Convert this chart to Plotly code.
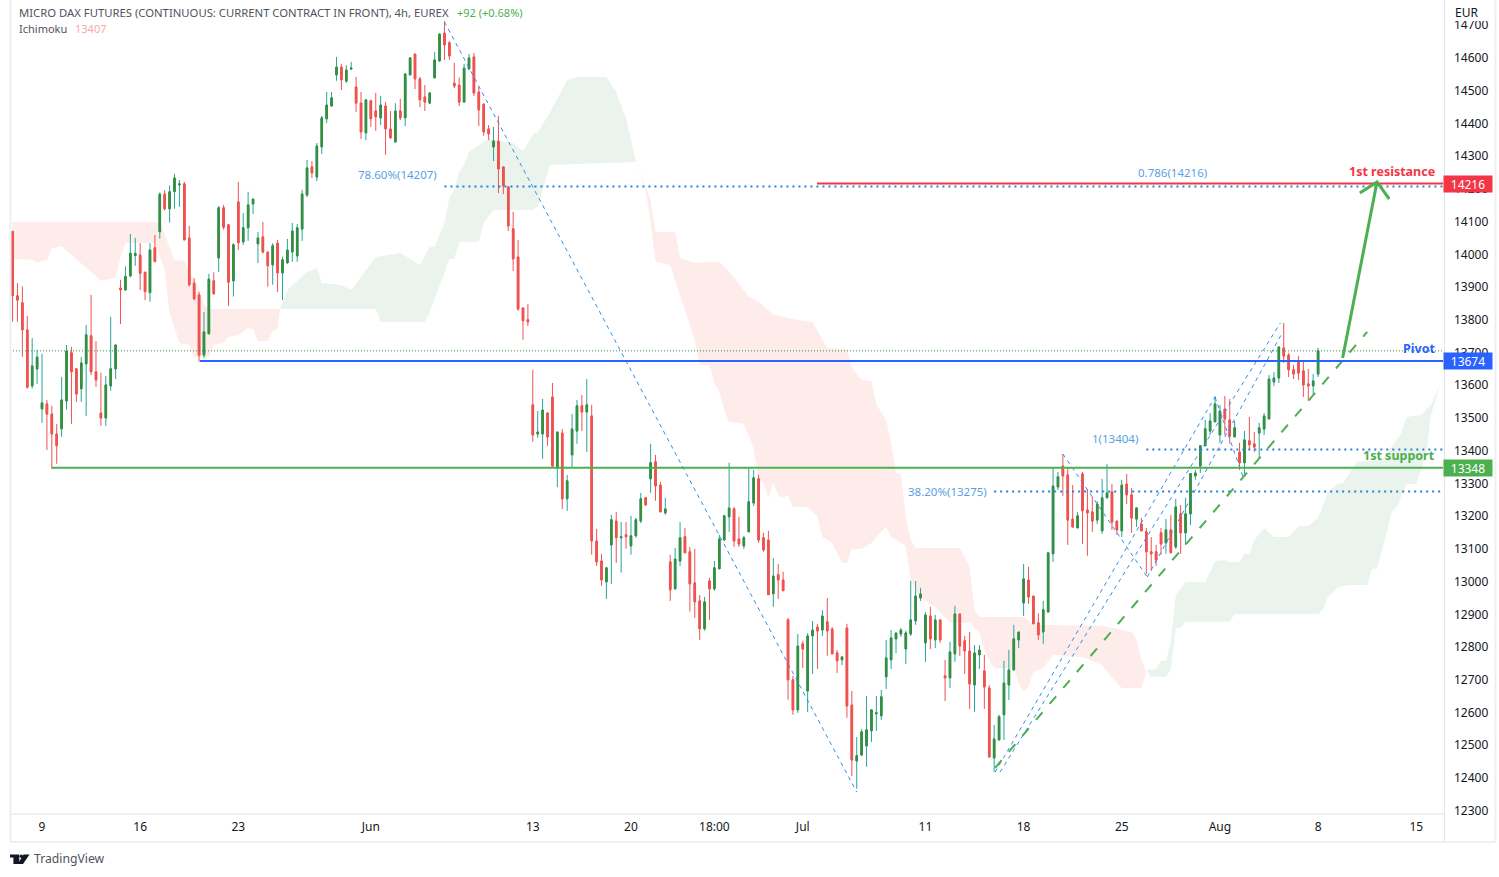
import plotly.graph_objects as go

# ==================== 4h 蜡烛数据 (bar index, 价格) ====================
bar_open = [
    14070, 13873, 13852, 13769, 13598, 13650, 13528, 13543, 13512, 13451,
    13467, 13552, 13699, 13650, 13589, 13665, 13751, 13641, 13515, 13500,
    13598, 13650, 13897, 13891, 13934, 13996, 13998, 13945, 13883, 14020,
    14069, 14184, 14139, 14192, 14212, 14215, 14050, 13912, 13876, 13692,
    13757, 13919, 13989, 14142, 14090, 13919, 14160, 14038, 14081, 14154,
    14032, 14053, 14007, 13968, 14034, 13943, 13974, 14007, 13995, 14077,
    14181, 14267, 14236, 14328, 14414, 14453, 14548, 14572, 14529, 14566,
    14511, 14462, 14371, 14469, 14438, 14417, 14453, 14383, 14343, 14438,
    14417, 14548, 14612, 14536, 14481, 14462, 14539, 14591, 14676, 14646,
    14523, 14517, 14465, 14566, 14603, 14496, 14459, 14383, 14328, 14346,
    14267, 14206, 14078, 13992, 13836, 13800, 13540, 13451, 13451, 13515,
    13564, 13350, 13454, 13253, 13387, 13460, 13537, 13518, 13506, 13124,
    13063, 12999, 13112, 13185, 13134, 13143, 13109, 13140, 13185, 13256,
    13314, 13366, 13295, 13210, 13060, 12978, 13063, 13137, 13091, 12996,
    12941, 12856, 13002, 12978, 13039, 13127, 13198, 13222, 13130, 13109,
    13152, 13240, 13314, 13134, 13127, 12963, 13021, 13005, 12883, 12700,
    12608, 12810, 12666, 12834, 12861, 12852, 12877, 12855, 12782, 12761,
    12858, 12623, 12452, 12470, 12498, 12544, 12596, 12590, 12709, 12761,
    12825, 12840, 12794, 12840, 12880, 12950, 12813, 12895, 12822, 12883,
    12712, 12706, 12779, 12901, 12819, 12788, 12684, 12776, 12727, 12675,
    12461, 12516, 12593, 12684, 12730, 12822, 12935, 13005, 12956, 12874,
    12846, 12907, 13085, 13289, 13353, 13326, 13191, 13164, 13329, 13219,
    13213, 13188, 13155, 13256, 13274, 13185, 13155, 13298, 13265, 13191,
    13176, 13152, 13091, 13091, 13149, 13118, 13158, 13106, 13207, 13149,
    13207, 13323, 13353, 13415, 13460, 13488, 13448, 13527, 13494, 13442,
    13396, 13363, 13430, 13421, 13454, 13466, 13497, 13610, 13622, 13714,
    13692, 13647, 13671, 13644, 13604, 13598, 13634,
]
bar_high = [
    14070, 13912, 13902, 13812, 13744, 13708, 13696, 13555, 13537, 13482,
    13625, 13723, 13717, 13650, 13686, 13784, 13876, 13735, 13638, 13628,
    13809, 13723, 13922, 13963, 14062, 14050, 14034, 13947, 14034, 14059,
    14189, 14196, 14210, 14246, 14227, 14221, 14087, 13927, 13885, 13824,
    13940, 13945, 14148, 14151, 14093, 14034, 14221, 14126, 14191, 14169,
    14068, 14099, 14007, 14034, 14044, 13993, 14047, 14096, 14093, 14197,
    14288, 14285, 14340, 14423, 14496, 14496, 14603, 14582, 14578, 14588,
    14542, 14496, 14472, 14472, 14493, 14484, 14465, 14438, 14462, 14475,
    14554, 14603, 14612, 14542, 14517, 14496, 14618, 14675, 14712, 14652,
    14585, 14540, 14582, 14612, 14615, 14511, 14459, 14395, 14389, 14423,
    14267, 14206, 14130, 14044, 13836, 13848, 13647, 13521, 13558, 13518,
    13607, 13457, 13466, 13326, 13512, 13555, 13570, 13619, 13540, 13161,
    13085, 13042, 13204, 13213, 13182, 13182, 13201, 13195, 13271, 13259,
    13421, 13387, 13305, 13256, 13082, 13103, 13182, 13164, 13106, 13100,
    12959, 12953, 13011, 13063, 13143, 13204, 13363, 13228, 13198, 13140,
    13346, 13341, 13326, 13149, 13155, 13072, 13054, 13030, 12889, 12712,
    12840, 12819, 12843, 12880, 12871, 12913, 12950, 12861, 12791, 12770,
    12871, 12666, 12525, 12550, 12651, 12611, 12651, 12669, 12822, 12852,
    12843, 12858, 12850, 13002, 13002, 12981, 12907, 12923, 12898, 12883,
    12761, 12816, 12926, 12901, 12834, 12846, 12806, 12806, 12776, 12684,
    12562, 12593, 12758, 12791, 12868, 12846, 13054, 13045, 12956, 12903,
    12941, 13088, 13347, 13335, 13390, 13347, 13295, 13213, 13335, 13283,
    13259, 13246, 13314, 13359, 13298, 13185, 13311, 13329, 13286, 13228,
    13195, 13164, 13136, 13112, 13164, 13191, 13204, 13253, 13234, 13256,
    13330, 13341, 13415, 13494, 13515, 13567, 13540, 13567, 13558, 13491,
    13424, 13460, 13503, 13457, 13485, 13515, 13631, 13640, 13717, 13790,
    13699, 13662, 13689, 13674, 13650, 13634, 13714,
]
bar_low = [
    13794, 13794, 13687, 13590, 13590, 13604, 13485, 13402, 13344, 13360,
    13442, 13525, 13482, 13549, 13549, 13506, 13631, 13595, 13476, 13476,
    13583, 13619, 13787, 13891, 13930, 13965, 13891, 13860, 13855, 13975,
    14048, 14134, 14097, 14139, 14145, 14044, 13902, 13860, 13671, 13683,
    13757, 13879, 13946, 14075, 13842, 13871, 14013, 14029, 14041, 14123,
    13973, 14003, 13901, 13907, 13885, 13860, 13971, 13977, 13977, 14041,
    14175, 14233, 14224, 14307, 14401, 14453, 14530, 14502, 14524, 14563,
    14435, 14352, 14349, 14389, 14377, 14395, 14304, 14352, 14343, 14410,
    14392, 14548, 14505, 14450, 14438, 14459, 14539, 14588, 14594, 14594,
    14508, 14453, 14465, 14566, 14484, 14392, 14362, 14349, 14285, 14187,
    14184, 14071, 13949, 13827, 13739, 13781, 13427, 13439, 13375, 13415,
    13349, 13289, 13222, 13216, 13350, 13421, 13460, 13396, 13082, 13048,
    12987, 12947, 12993, 13057, 13027, 13100, 13082, 13134, 13179, 13234,
    13271, 13247, 13213, 13204, 12941, 12975, 13048, 13088, 12908, 12889,
    12822, 12850, 12883, 12972, 13039, 13127, 13152, 13106, 13106, 13100,
    13152, 13231, 13118, 13091, 12960, 12923, 12947, 12972, 12639, 12593,
    12599, 12736, 12602, 12718, 12733, 12834, 12773, 12779, 12721, 12745,
    12584, 12406, 12367, 12467, 12434, 12510, 12544, 12577, 12672, 12733,
    12782, 12831, 12748, 12834, 12868, 12941, 12755, 12794, 12797, 12813,
    12635, 12675, 12755, 12773, 12718, 12611, 12602, 12733, 12611, 12464,
    12419, 12516, 12516, 12638, 12730, 12797, 12895, 12932, 12871, 12822,
    12810, 12907, 13060, 13280, 13262, 13112, 13164, 13164, 13115, 13079,
    13152, 13176, 13146, 13256, 13158, 13143, 13136, 13237, 13149, 13167,
    13155, 13024, 13033, 13048, 13082, 13085, 13088, 13100, 13085, 13112,
    13173, 13311, 13332, 13415, 13448, 13488, 13424, 13448, 13421, 13442,
    13341, 13326, 13405, 13396, 13378, 13448, 13497, 13598, 13607, 13668,
    13625, 13619, 13616, 13564, 13552, 13573, 13625,
]
bar_close = [
    13874, 13860, 13769, 13594, 13659, 13686, 13546, 13512, 13451, 13415,
    13555, 13704, 13641, 13573, 13668, 13754, 13641, 13616, 13500, 13601,
    13650, 13723, 13891, 13932, 14003, 14003, 13942, 13886, 14013, 13978,
    14184, 14139, 14191, 14233, 14215, 14044, 13907, 13864, 13692, 13763,
    13924, 13879, 14142, 14083, 13915, 14029, 14035, 14081, 14151, 14169,
    14050, 14007, 13965, 14026, 13943, 13983, 14013, 14071, 14081, 14184,
    14264, 14249, 14331, 14417, 14456, 14478, 14572, 14533, 14563, 14569,
    14462, 14374, 14472, 14414, 14420, 14456, 14383, 14356, 14438, 14417,
    14551, 14600, 14536, 14472, 14465, 14493, 14594, 14673, 14640, 14606,
    14514, 14465, 14569, 14600, 14493, 14441, 14374, 14368, 14346, 14261,
    14209, 14087, 13986, 13833, 13797, 13794, 13448, 13457, 13524, 13442,
    13353, 13457, 13253, 13308, 13466, 13537, 13518, 13540, 13124, 13060,
    13005, 13042, 13189, 13134, 13137, 13137, 13140, 13189, 13253, 13234,
    13363, 13292, 13213, 13222, 12975, 13069, 13134, 13088, 12993, 12938,
    12856, 12938, 12978, 13042, 13130, 13201, 13225, 13124, 13115, 13134,
    13244, 13317, 13127, 13097, 12960, 13017, 13005, 12972, 12700, 12608,
    12803, 12794, 12834, 12852, 12849, 12895, 12849, 12779, 12758, 12770,
    12620, 12455, 12468, 12541, 12547, 12608, 12599, 12648, 12767, 12828,
    12843, 12852, 12843, 12883, 12956, 12962, 12898, 12825, 12883, 12822,
    12706, 12785, 12901, 12803, 12788, 12687, 12782, 12791, 12678, 12464,
    12519, 12587, 12690, 12730, 12825, 12846, 13008, 12953, 12871, 12837,
    12914, 13088, 13292, 13320, 13323, 13188, 13167, 13201, 13216, 13210,
    13185, 13237, 13256, 13271, 13182, 13158, 13295, 13265, 13194, 13225,
    13155, 13091, 13085, 13066, 13115, 13158, 13088, 13228, 13149, 13207,
    13330, 13332, 13415, 13467, 13491, 13543, 13521, 13497, 13445, 13470,
    13363, 13433, 13418, 13411, 13470, 13506, 13619, 13622, 13717, 13689,
    13647, 13634, 13637, 13601, 13598, 13613, 13705,
]
body_high = [max(o, c) for o, c in zip(bar_open, bar_close)]
body_low = [min(o, c) for o, c in zip(bar_open, bar_close)]
bar_index = list(range(len(bar_open)))

# ==================== Ichimoku 云 ====================
pink1_top_i = [0, 30, 33, 35, 38, 39, 40, 54.5]
pink1_top_p = [14099, 14099, 13983, 13980, 13891, 13845, 13833, 13833]
pink1_bot_i = [0, 4, 5, 7, 8, 10, 12, 14, 16, 18, 21, 22, 23, 29, 31, 32, 34, 36, 37, 40, 41, 43, 44, 46, 48, 49, 50, 52, 53, 54, 54.5]
pink1_bot_p = [13986, 13983, 13974, 13983, 14019, 14025, 13998, 13974, 13946, 13919, 13928, 13992, 14035, 14035,
               13952, 13821, 13729, 13723, 13686, 13686, 13723, 13729, 13747, 13753, 13775, 13772, 13735, 13735,
               13766, 13772, 13833]

green1_top_i = [54.5, 56, 60, 62, 63, 67, 69, 74, 79, 83, 85, 86, 88, 89, 90, 91, 92, 93, 96, 97, 102, 104, 105, 106, 107, 109, 113, 115, 121, 123, 125, 127]
green1_top_p = [13833, 13891, 13946, 13958, 13912, 13906, 13891, 13992, 14004, 13967, 14022, 14025, 14096, 14175,
                14197, 14252, 14273, 14313, 14343, 14352, 14340, 14316, 14340, 14365, 14374, 14420, 14532, 14542,
                14542, 14496, 14416, 14282]
green1_bot_i = [54.5, 74, 75, 84, 85, 88, 89, 90, 91, 95, 96, 98, 106, 107, 109.5, 127]
green1_bot_p = [13833, 13833, 13793, 13793, 13824, 13943, 13986, 13986, 14038, 14038, 14096, 14135, 14135, 14145, 14273, 14282]

pink2_top_i = [127, 128, 130, 131, 135, 136, 139, 144, 147, 150, 152, 155, 160, 163, 165, 166, 170, 171, 173, 175, 176, 178, 179, 180, 181,
               182, 183, 184, 193, 195, 196, 197, 206, 208, 222, 228, 229, 230, 231]
pink2_top_p = [14282, 14242, 14166, 14068, 14068, 13989, 13974, 13977, 13931, 13870, 13855, 13815, 13799, 13793, 13738,
               13714, 13711, 13653, 13616, 13613, 13540, 13494, 13424, 13332, 13329, 13194, 13127, 13103, 13103,
               13045, 12913, 12892, 12892, 12868, 12865, 12846, 12822, 12761, 12724]
pink2_bot_i = [127, 129, 130, 131, 134, 137, 139, 140, 142, 143, 144, 145, 146, 149, 151, 152, 153, 154, 155, 156, 157, 158, 159, 162, 164,
               165, 167, 169, 170, 171, 173, 175, 177, 178, 179, 181, 182, 183, 184, 185, 188, 191, 195, 197, 198, 199, 200,
               204, 205, 206, 207, 208, 210, 212, 218, 222, 224, 226, 230, 231]
pink2_bot_p = [14282, 14196, 14099, 13977, 13967, 13830, 13738, 13662, 13662, 13607, 13579, 13524, 13488, 13482, 13408,
               13311, 13301, 13256, 13301, 13265, 13256, 13265, 13228, 13228, 13198, 13136, 13118, 13057, 13057,
               13100, 13100, 13118, 13152, 13167, 13136, 13118, 13109, 13005, 12974, 12950, 12923, 12874, 12874,
               12843, 12791, 12761, 12736, 12733, 12690, 12663, 12678, 12724, 12736, 12776, 12770, 12745, 12706,
               12675, 12675, 12724]

green2_top_i = [231, 233, 234, 235, 236, 237, 239, 243, 245, 247, 248, 250, 251, 252, 253, 255, 257, 260, 262, 264, 266, 268, 270, 271, 274, 279, 283, 284, 287, 289, 291]
green2_top_p = [12730, 12733, 12758, 12758, 12813, 12959, 12999, 12999, 13063, 13066, 13060, 13060, 13085, 13085, 13127,
                13164, 13136, 13136, 13170, 13170, 13194, 13274, 13298, 13301, 13366, 13372, 13454, 13503, 13509,
                13540, 13607]
green2_bot_i = [231, 232, 235, 236, 237, 238, 239, 248, 249, 266, 267, 268, 270, 272, 276, 277, 278, 280, 281, 282, 284, 286, 288, 289, 291]
green2_bot_p = [12730, 12709, 12709, 12730, 12858, 12858, 12877, 12877, 12901, 12901, 12913, 12953, 12981, 12990, 12990,
                13039, 13039, 13151, 13213, 13228, 13298, 13298, 13387, 13510, 13607]

# ==================== 画线数据 ====================
x_left = -0.52
x_right = 291.45
last_price = 13705
pivot_price = 13674
pivot_start = 38.2
support_price = 13348
support_start = 8
resistance_price = 14216
resistance_start = 163.9

fib_prices = [14207, 13404, 13275]
fib_starts = [88, 231, 200]

# 蓝色细虚线 (起点i, 起点价, 终点i, 终点价)
dash_i0 = [88, 200.2, 201.2, 231.2, 214, 245]
dash_p0 = [14710, 12418, 12418, 13014, 13390, 13564]
dash_i1 = [172, 245, 258.3, 258.7, 231.2, 250.7]
dash_p1 = [12357, 13564, 13790, 13760, 13014, 13320]

trend_i = [200.2, 276]
trend_p = [12431, 13763]

arrow_i = [271, 278, 274.5, 278, 280.5]
arrow_p = [13683, 14221, 14187, 14221, 14169]

y_ticks = list(range(12300, 14800, 100))
x_tick_pos = [6, 26, 46, 73, 106, 126, 143, 161, 186, 206, 226, 246, 266, 286]
x_tick_text = ['9', '16', '23', 'Jun', '13', '20', '18:00', 'Jul', '11', '18', '25', 'Aug', '8', '15']

FONT = 'Noto Sans'
BLUE = '#2962ff'
GREEN = '#4caf50'
RED = '#f23645'
FIB = '#2a7fd8'
LABEL = '#5a9fe3'


def px(x):
    return (x - 10) / 1433


def py(y):
    return (813 - y) / 813


# scatter 默认画在蜡烛上面，用 zorder 把云压到下层
def cloud(top_i, top_p, bot_i, bot_p, color):
    return go.Scatter(x=top_i + bot_i[::-1], y=top_p + bot_p[::-1], mode='lines', fill='toself',
                      fillcolor=color, line=dict(width=0), hoverinfo='skip', zorder=-1)


def line(x, y, color, width=1, dash='solid'):
    return go.Scatter(x=x, y=y, mode='lines', line=dict(color=color, width=width, dash=dash),
                      hoverinfo='skip', zorder=1)


fig = go.Figure()

fig.add_trace(cloud(pink1_top_i, pink1_top_p, pink1_bot_i, pink1_bot_p, '#fdecea'))
fig.add_trace(cloud(green1_top_i, green1_top_p, green1_bot_i, green1_bot_p, '#eaf4ec'))
fig.add_trace(cloud(pink2_top_i, pink2_top_p, pink2_bot_i, pink2_bot_p, '#fdecea'))
fig.add_trace(cloud(green2_top_i, green2_top_p, green2_bot_i, green2_bot_p, '#eaf4ec'))

# 影线和实体颜色不同，画两层
fig.add_trace(go.Candlestick(x=bar_index, open=bar_open, high=bar_high, low=bar_low, close=bar_close,
                             increasing=dict(line=dict(color='#26a69a', width=1), fillcolor='#26a69a'),
                             decreasing=dict(line=dict(color='#ef5350', width=1), fillcolor='#ef5350'),
                             whiskerwidth=0))
fig.add_trace(go.Candlestick(x=bar_index, open=bar_open, high=body_high, low=body_low, close=bar_close,
                             increasing=dict(line=dict(color='#388e3c', width=1), fillcolor='#388e3c'),
                             decreasing=dict(line=dict(color='#ef5350', width=1), fillcolor='#ef5350'),
                             whiskerwidth=0))

fig.add_trace(line([x_left, x_right], [last_price, last_price], '#388e3c', 1, '1px,2px'))

for p, s in zip(fib_prices, fib_starts):
    fig.add_trace(line([s, x_right], [p, p], FIB, 2, '2px,4px'))
for a, b, c, d in zip(dash_i0, dash_p0, dash_i1, dash_p1):
    fig.add_trace(line([a, c], [b, d], '#2f8fe8', 1, '4px,4px'))
fig.add_trace(line(trend_i, trend_p, GREEN, 2, '10px,11px'))

fig.add_trace(line([pivot_start, x_right], [pivot_price, pivot_price], BLUE, 2))
fig.add_trace(line([support_start, x_right], [support_price, support_price], GREEN, 2))
fig.add_trace(line([resistance_start, x_right], [resistance_price, resistance_price], RED, 2))
fig.add_trace(line(arrow_i, arrow_p, GREEN, 3))


def text(x, y, s, color='#50535e', size=12, anchor='left', bold=False):
    fig.add_annotation(x=px(x), y=py(y), xref='paper', yref='paper', text=f'<b>{s}</b>' if bold else s,
                       showarrow=False, xanchor=anchor, yanchor='middle',
                       font=dict(family=FONT, size=size, color=color), borderpad=0)


text(18, 12, 'MICRO DAX FUTURES (CONTINUOUS: CURRENT CONTRACT IN FRONT), 4h, EUREX', size=11.3)
text(456, 12, '+92 (+0.68%)', color='#4caf50', size=11)
text(18, 29, 'Ichimoku', size=11)
text(74, 29, '13407', color='#f7a9a7', size=11)

text(397, 175, '78.60%(14207)', LABEL, 11.5, 'center')
text(1172, 172, '0.786(14216)', LABEL, 11.5, 'center')
text(1115, 438, '1(13404)', LABEL, 11.5, 'center')
text(947, 491, '38.20%(13275)', LABEL, 11.5, 'center')
text(1436, 171, '1st resistance', RED, 12.5, 'right', True)
text(1436, 349, 'Pivot', BLUE, 12.5, 'right', True)
text(1436, 456, '1st support', GREEN, 12.5, 'right', True)

# 价格标签
for price, color in zip([resistance_price, pivot_price, support_price], [RED, BLUE, GREEN]):
    fig.add_annotation(x=px(1468), y=price, xref='paper', yref='y', text=str(price), showarrow=False,
                       font=dict(family=FONT, size=12, color='white'), bgcolor=color,
                       width=48, height=16, borderpad=0, xanchor='center', yanchor='middle')

text(1454, 12, 'EUR', '#131722', 12)
text(33, 859, 'TradingView', '#50535e', 12.2)

# 边框和 TradingView 图标
shapes = [
    dict(type='rect', x0=px(1445), x1=px(1493), y0=py(21), y1=py(0), fillcolor='white', line_width=0, layer='above'),
    dict(type='line', x0=px(10.5), x1=px(10.5), y0=py(0), y1=py(842), line=dict(color='#eeeff6', width=2)),
    dict(type='line', x0=px(10), x1=px(1444), y0=py(814), y1=py(814), line=dict(color='#e0e3eb', width=1)),
    dict(type='line', x0=px(1444.5), x1=px(1444.5), y0=py(0), y1=py(842), line=dict(color='#e0e3eb', width=1)),
    dict(type='line', x0=px(10), x1=px(1496), y0=py(842), y1=py(842), line=dict(color='#eeeff6', width=2)),
    dict(type='line', x0=px(1495.5), x1=px(1495.5), y0=py(0), y1=py(842), line=dict(color='#eeeff6', width=2)),
]
logo = [
    [(10, 854.5), (19.3, 854.5), (19.3, 864), (13.4, 864), (13.4, 857.6), (10, 857.6)],
    [(23.5, 854.5), (29.5, 854.5), (23, 864), (17.7, 864)],
]
for poly in logo:
    path = 'M ' + ' L '.join(f'{px(a):.5f},{py(b):.5f}' for a, b in poly) + ' Z'
    shapes.append(dict(type='path', path=path, xref='paper', yref='paper', fillcolor='#131722', line_width=0))
shapes.append(dict(type='circle', x0=px(19.6), x1=px(23), y0=py(858), y1=py(854.5), fillcolor='#131722', line_width=0))
for s in shapes:
    s.setdefault('xref', 'paper')
    s.setdefault('yref', 'paper')

fig.update_layout(
    width=1499,
    height=877,
    autosize=False,
    margin=dict(l=10, r=56, t=0, b=64, pad=0),
    paper_bgcolor='white',
    plot_bgcolor='white',
    showlegend=False,
    boxgap=0.55,
    shapes=shapes,
    font=dict(family=FONT, size=12, color='#131722'),
    xaxis=dict(range=[x_left, x_right], rangeslider=dict(visible=False), showgrid=False, zeroline=False,
               tickmode='array', tickvals=x_tick_pos, ticktext=x_tick_text, ticks='', ticklabelstandoff=5,
               tickfont=dict(family=FONT, size=12, color='#131722')),
    yaxis=dict(range=[12293, 14777], side='right', showgrid=False, zeroline=False, tickmode='array',
               tickvals=y_ticks, ticktext=[str(v) for v in y_ticks], ticks='', ticklabelstandoff=10,
               tickfont=dict(family=FONT, size=12, color='#131722')),
)

fig.write_html('out.html', config={'displayModeBar': False},
               post_script="document.body.style.margin='0';")
